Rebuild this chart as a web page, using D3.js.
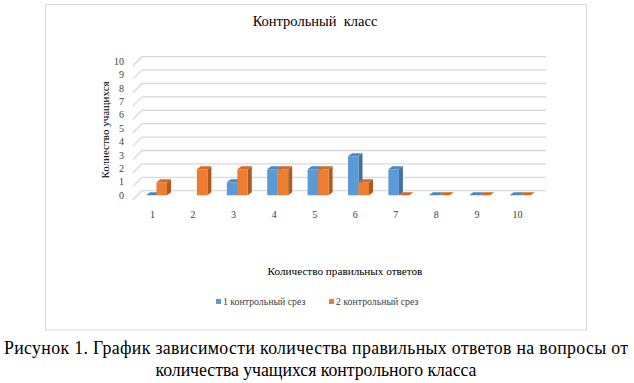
<!DOCTYPE html>
<html>
<head>
<meta charset="utf-8">
<script src="https://cdn.jsdelivr.net/npm/d3@7"></script>
<style>
  body { margin: 0; background: #fff; }
</style>
</head>
<body>
<svg class="chart" width="634" height="383"></svg>
<script>
const categories = ['1', '2', '3', '4', '5', '6', '7', '8', '9', '10']
const seriesNames = ['1 контрольный срез', '2 контрольный срез']
const srez1 = [0, null, 1, 2, 2, 3, 2, 0, 0, 0]
const srez2 = [1, 2, 2, 2, 2, 1, 0, 0, 0, 0]
const yTicks = [0, 1, 2, 3, 4, 5, 6, 7, 8, 9, 10]

const colors = [
  {front: '#5b9bd5', top: '#4a86c0', side: '#41719c'},
  {front: '#ed7d31', top: '#d06a24', side: '#ae5a21'}
]
const serif = "'Liberation Serif', 'DejaVu Serif', serif"

const svg = d3.select('.chart')
  .attr('font-family', serif)

// chart frame
svg.append('rect')
  .attr('x', 45.5).attr('y', 4.5)
  .attr('width', 541).attr('height', 325.5)
  .attr('fill', '#fff')
  .attr('stroke', '#d9d9d9')

// scales
const x = d3.scaleBand(categories, [136.3, 540.3])
  .paddingInner(0.48)
  .paddingOuter(0.24)
const sub = d3.scaleBand(['s1', 's2'], [0, x.bandwidth()])
const yWall = d3.scaleLinear([0, 10], [190.7, 56.7])
const yBar = d3.scaleLinear([0, 10], [195.3, 65.3])

const depthX = 9, depthY = 9
const wallLeft = 142, wallRight = 546

// gridlines (back wall + floor edge)
svg.append('g')
  .selectAll('path')
  .data(yTicks)
  .join('path')
    .attr('d', d => `M${wallLeft - depthX},${yWall(d) + depthY}L${wallLeft},${yWall(d)}L${wallRight},${yWall(d)}`)
    .attr('fill', 'none')
    .attr('stroke', '#d9d9d9')
    .attr('stroke-width', 1.3)

// y tick labels
svg.append('g')
  .selectAll('text')
  .data(yTicks)
  .join('text')
    .text(d => d)
    .attr('x', 124)
    .attr('y', d => yWall(d) + 8)
    .attr('text-anchor', 'end')
    .attr('font-size', '10px')
    .attr('fill', '#404040')

// x tick labels
svg.append('g')
  .selectAll('text')
  .data(categories)
  .join('text')
    .text(d => d)
    .attr('x', (d, i) => x(d) + x.bandwidth() / 2 - 4 + i * 0.15)
    .attr('y', 218)
    .attr('text-anchor', 'middle')
    .attr('font-size', '10px')
    .attr('fill', '#404040')

// 3D bars
const bx = 4, by = 3
const barData = []
categories.forEach((c, i) => {
  [srez1[i], srez2[i]].forEach((v, s) => {
    if (v !== null) barData.push({cat: c, s: s, value: v})
  })
})

const bars = svg.append('g')
  .selectAll('g')
  .data(barData)
  .join('g')

bars.append('path')
  .attr('d', d => {
    const x0 = x(d.cat) + sub(d.s ? 's2' : 's1')
    const x1 = x0 + sub.bandwidth()
    const yt = yBar(d.value), yb = yBar(0)
    return `M${x1},${yt}L${x1 + bx},${yt - by}L${x1 + bx},${yb - by}L${x1},${yb}Z`
  })
  .attr('fill', d => colors[d.s].side)

bars.append('rect')
  .attr('x', d => x(d.cat) + sub(d.s ? 's2' : 's1'))
  .attr('y', d => yBar(d.value))
  .attr('width', sub.bandwidth())
  .attr('height', d => yBar(0) - yBar(d.value))
  .attr('fill', d => colors[d.s].front)

bars.append('path')
  .attr('d', d => {
    const x0 = x(d.cat) + sub(d.s ? 's2' : 's1')
    const x1 = x0 + sub.bandwidth()
    const yt = yBar(d.value)
    return `M${x0},${yt}L${x0 + bx},${yt - by}L${x1 + bx},${yt - by}L${x1},${yt}Z`
  })
  .attr('fill', d => colors[d.s].top)

// title
svg.append('text')
  .text('Контрольный\u00a0 класс')
  .attr('x', 315).attr('y', 26)
  .attr('text-anchor', 'middle')
  .attr('font-size', '14.5px')
  .attr('fill', '#000')

// y axis title
svg.append('text')
  .text('Колиество учащихся')
  .attr('text-anchor', 'middle')
  .attr('transform', 'translate(109, 130) rotate(-90)')
  .attr('font-size', '11px')
  .attr('fill', '#000')

// x axis title
svg.append('text')
  .text('Количество правильных ответов')
  .attr('x', 345).attr('y', 275)
  .attr('text-anchor', 'middle')
  .attr('font-size', '11.2px')
  .attr('fill', '#000')

// legend
const legendX = [216, 329]
const legend = svg.append('g')
  .selectAll('g')
  .data(seriesNames)
  .join('g')
    .attr('transform', (d, i) => `translate(${legendX[i]}, 305)`)
legend.append('rect')
  .attr('x', 0).attr('y', -6)
  .attr('width', 5).attr('height', 5)
  .attr('fill', (d, i) => colors[i].front)
legend.append('text')
  .text(d => d)
  .attr('x', 7).attr('y', 0)
  .attr('font-size', '9.8px')
  .attr('fill', '#404040')

// caption
const caption = [
  'Рисунок 1. График зависимости количества правильных ответов на вопросы от',
  'количества учащихся контрольного класса'
]
const captionWidth = [624, 321]
svg.append('g')
  .selectAll('text')
  .data(caption)
  .join('text')
    .text(d => d)
    .attr('x', 316)
    .attr('y', (d, i) => 354 + i * 22)
    .attr('text-anchor', 'middle')
    .attr('font-size', '17.8px')
    .attr('textLength', (d, i) => captionWidth[i])
    .attr('lengthAdjust', 'spacing')
    .attr('fill', '#000')
</script>
</body>
</html>
